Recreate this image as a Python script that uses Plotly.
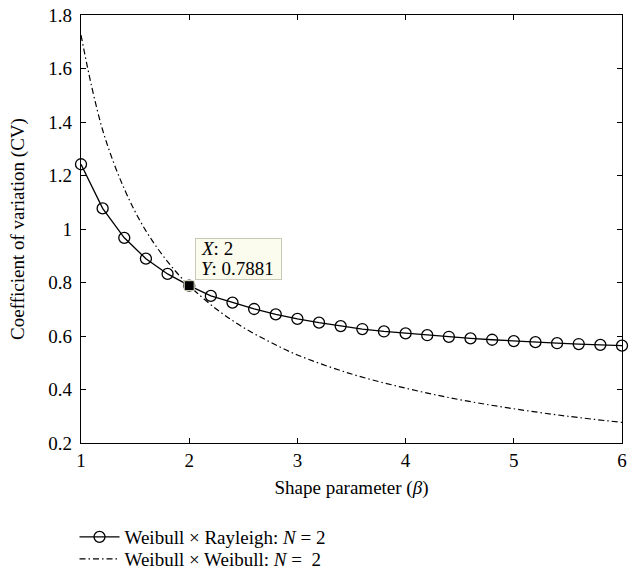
import plotly.graph_objects as go

# ---- data ----
beta_wr = [1.0, 1.2, 1.4, 1.6, 1.8, 2.0, 2.2, 2.4, 2.6, 2.8, 3.0, 3.2, 3.4,
           3.6, 3.8, 4.0, 4.2, 4.4, 4.6, 4.8, 5.0, 5.2, 5.4, 5.6, 5.8, 6.0]
cv_wr = [1.242, 1.077, 0.967, 0.889, 0.832, 0.7881, 0.750, 0.725, 0.701, 0.681,
         0.664, 0.650, 0.637, 0.626, 0.617, 0.610, 0.603, 0.597, 0.591, 0.586,
         0.581, 0.577, 0.573, 0.570, 0.567, 0.564]

beta_ww = [1.0, 1.1, 1.2, 1.3, 1.4, 1.5, 1.6, 1.7, 1.8, 1.9, 2.0, 2.25, 2.5,
           2.75, 3.0, 3.5, 4.0, 4.5, 5.0, 5.5, 6.0]
cv_ww = [1.725, 1.53, 1.37, 1.25, 1.15, 1.065, 0.993, 0.932, 0.878, 0.830,
         0.788, 0.701, 0.632, 0.577, 0.529, 0.458, 0.405, 0.362, 0.328, 0.300,
         0.277]

tip_x = 2
tip_y = 0.7881

x_ticks = [1, 2, 3, 4, 5, 6]
y_ticks = [0.2, 0.4, 0.6, 0.8, 1.0, 1.2, 1.4, 1.6, 1.8]
y_ticktext = ["0.2", "0.4", "0.6", "0.8", "1", "1.2", "1.4", "1.6", "1.8"]

name_wr = "Weibull × Rayleigh: <i>N</i> = 2"
name_ww = "Weibull × Weibull: <i>N</i> =  2"

FONT = "Liberation Serif"
FS = 19

fig = go.Figure()

fig.add_trace(go.Scatter(
    x=beta_ww, y=cv_ww, mode="lines", name=name_ww,
    line=dict(color="black", width=1.2, dash="6px,3px,1.5px,3px", shape="spline"),
    legend="legend2", cliponaxis=False, hoverinfo="skip"))

fig.add_trace(go.Scatter(
    x=beta_wr, y=cv_wr, mode="lines+markers", name=name_wr,
    line=dict(color="black", width=1.3),
    marker=dict(symbol="circle-open", size=11, color="black", line=dict(width=1.3)),
    legend="legend", cliponaxis=False, hoverinfo="skip"))

fig.add_trace(go.Scatter(
    x=[tip_x], y=[tip_y], mode="markers", showlegend=False,
    marker=dict(symbol="square", size=10, color="black",
                line=dict(color="#f4f4dc", width=1)),
    cliponaxis=False, hoverinfo="skip"))

# datatip box
fig.add_annotation(x=tip_x, y=tip_y, xref="x", yref="y", text=" ",
                   showarrow=False, xanchor="left", yanchor="bottom",
                   xshift=6, yshift=6, width=85, height=40,
                   bgcolor="#fbfbee", bordercolor="#c9c9b8", borderwidth=1,
                   borderpad=0, font=dict(family=FONT, size=FS))
fig.add_annotation(x=tip_x, y=tip_y, xref="x", yref="y",
                   text="<i>X</i>: %g" % tip_x,
                   showarrow=False, xanchor="left", yanchor="middle",
                   xshift=10, yshift=37, font=dict(family=FONT, size=FS, color="black"))
fig.add_annotation(x=tip_x, y=tip_y, xref="x", yref="y",
                   text="<i>Y</i>: %.4f" % tip_y,
                   showarrow=False, xanchor="left", yanchor="middle",
                   xshift=10, yshift=17, font=dict(family=FONT, size=FS, color="black"))

axis_common = dict(showline=True, linecolor="black", linewidth=1.3, mirror="ticks",
                   ticks="inside", ticklen=5, tickwidth=1.2, tickcolor="black",
                   showgrid=False, zeroline=False,
                   tickfont=dict(family=FONT, size=FS, color="black"))

fig.update_xaxes(range=[1, 6], tickvals=x_ticks, ticktext=[str(v) for v in x_ticks],
                 title=dict(text="Shape parameter (<i>β</i>)",
                            font=dict(family=FONT, size=FS, color="black"), standoff=10),
                 **axis_common)
fig.update_yaxes(range=[0.2, 1.8], tickvals=y_ticks, ticktext=y_ticktext,
                 ticklabelstandoff=4,
                 title=dict(text="Coefficient of variation (CV)",
                            font=dict(family=FONT, size=FS, color="black"), standoff=18),
                 **axis_common)

leg_common = dict(font=dict(family=FONT, size=FS, color="black"),
                  bgcolor="rgba(0,0,0,0)", borderwidth=0, itemwidth=40,
                  xanchor="left", yanchor="middle", x=-0.012, orientation="v")

fig.update_layout(
    width=637, height=576,
    margin=dict(l=81, r=15, t=15, b=133, autoexpand=False),
    paper_bgcolor="white", plot_bgcolor="white",
    font=dict(family=FONT, size=FS, color="black"),
    legend=dict(y=-0.2196, **leg_common),
    legend2=dict(y=-0.2710, **leg_common),
)

fig.write_html("out.html")
